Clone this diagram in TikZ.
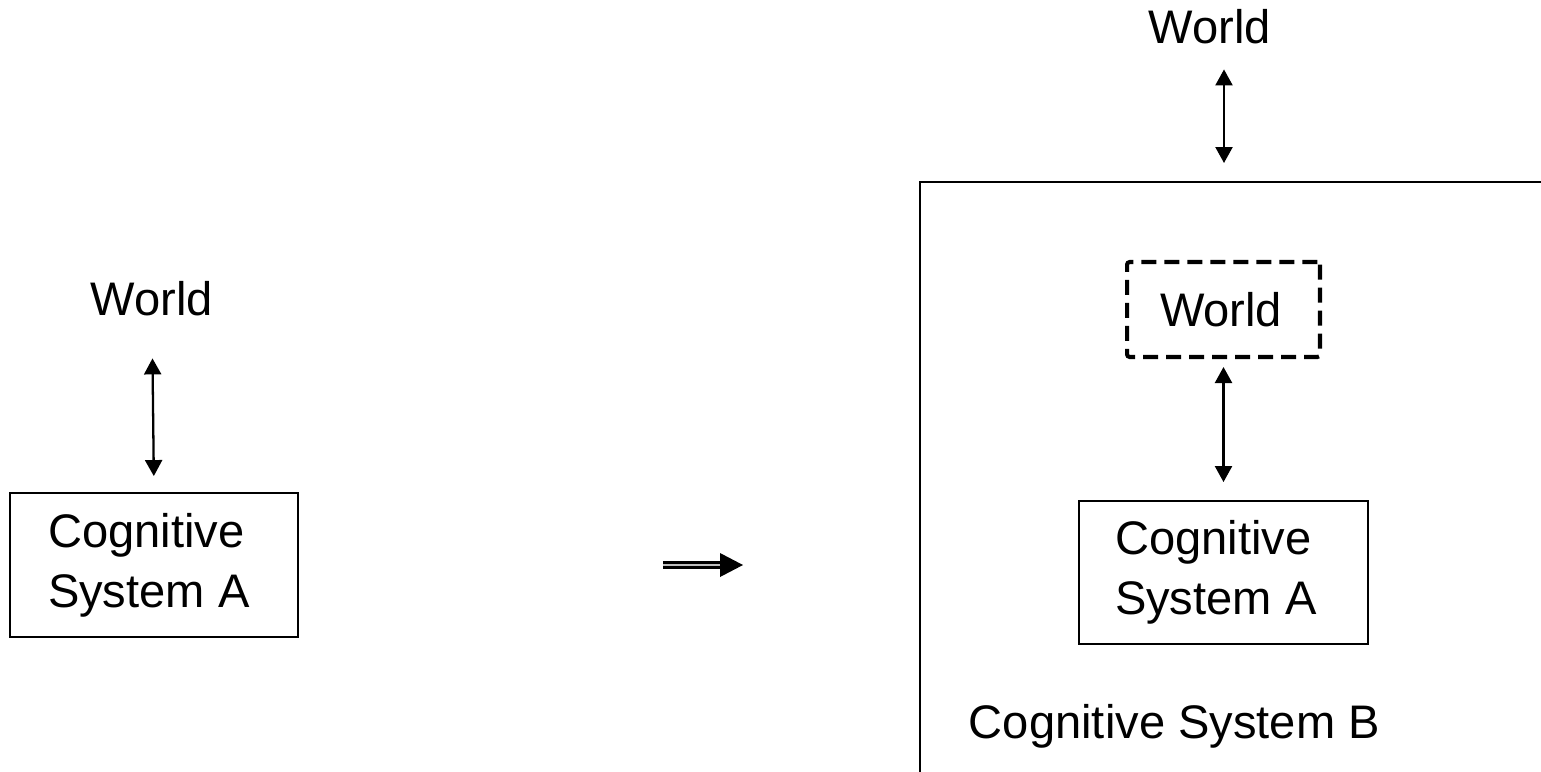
\documentclass[tikz,border=0pt]{standalone}
\usepackage{fontspec}
\setmainfont{Liberation Sans}
\usetikzlibrary{arrows.meta}

\begin{document}
\begin{tikzpicture}[x=0.02cm,y=-0.02cm,line width=1.1pt,
                    >={Triangle[length=0.32cm,width=0.34cm]},
                    every node/.style={font=\fontsize{26.8}{34}\selectfont,inner sep=0pt}]
  \tikzstyle{sysbox}=[draw,line width=1.1pt,align=flush left]
  \tikzstyle{imagined}=[draw,line width=2.3pt,dash pattern=on 0.3cm off 0.16cm,
                        rounded corners=1.5pt,align=flush left]
  \tikzstyle{frame}=[draw,line width=1.4pt]
  \tikzstyle{twoway}=[<->,line width=1.3pt]
  \tikzstyle{implies}=[double,double distance=1.3pt,line width=1.5pt,double=gray!50]

  \useasboundingbox (0,0) rectangle (1541,771);

  % before
  \node (worldA) [anchor=base] at (152,315) {World};
  \node (boxA)   [sysbox,inner xsep=0.76cm,text width=4.24cm,minimum height=2.88cm]
                 at (154,565) {Cognitive\\System A};

  % after
  \node (worldB) [anchor=base] at (1210,43) {World};
  \node (sysB)   [frame,anchor=north west,minimum width=14cm,minimum height=14cm]
                 at (919,181) {};
  \node (dworld) [imagined,inner xsep=0.66cm,text width=2.54cm,minimum height=1.9cm]
                 at (1223.5,309.5) {World};
  \node (boxB)   [sysbox,inner xsep=0.72cm,text width=4.34cm,minimum height=2.86cm]
                 at (1223.5,572.5) {Cognitive\\System A};
  \node (labelB) [anchor=base west] at (968,738) {Cognitive System B};

  % the step between them
  \coordinate (impS) at (663,565);
  \coordinate (impE) at (743,565);
  \draw[implies] (impS) -- ([xshift=-0.46cm]impE);
  \fill (impE) -- ++(-23,-12) -- ++(0,24) -- cycle;

  \draw[twoway,shorten <=0.84cm,shorten >=0.32cm] (worldA.south) -- (boxA.north);
  \draw[twoway,shorten <=0.5cm,shorten >=0.36cm]
        ([xshift=0.28cm]worldB.south) -- ([xshift=0.28cm]worldB.south |- sysB.north);
  \draw[twoway,shorten <=0.16cm,shorten >=0.36cm] (dworld.south) -- (boxB.north);
\end{tikzpicture}
\end{document}
